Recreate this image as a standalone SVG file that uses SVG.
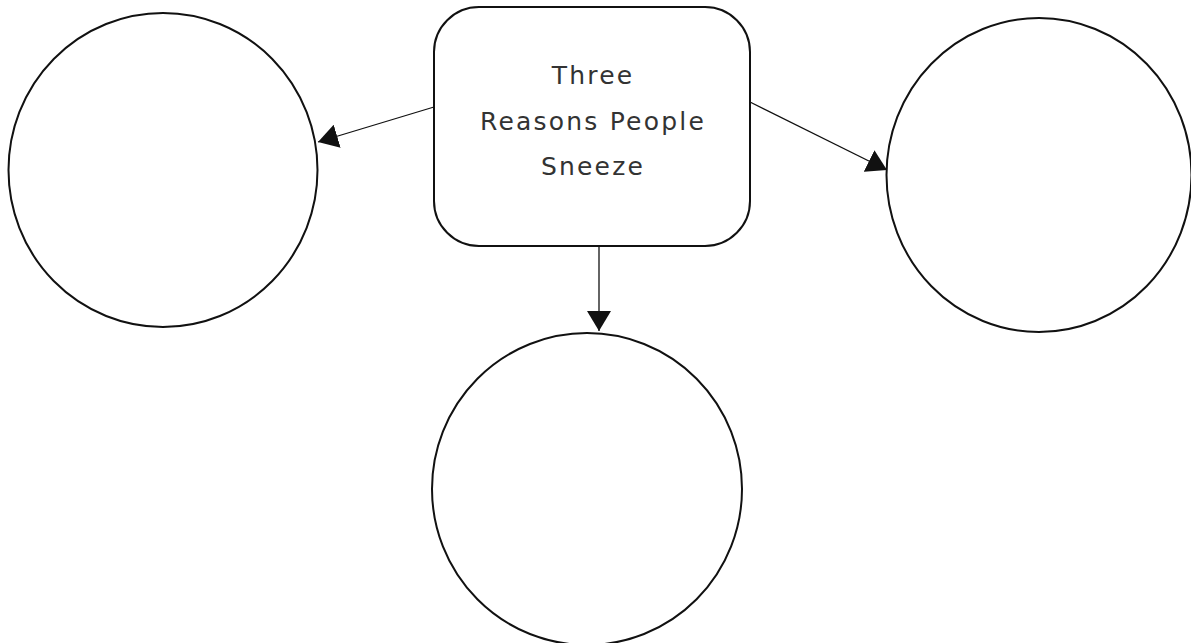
<svg xmlns="http://www.w3.org/2000/svg" width="1191" height="643" viewBox="0 0 1191 643">
<style>
.shape{fill:#fff;stroke:#111;stroke-width:2}
.conn{stroke:#111;stroke-width:1.3;fill:none}
.lbl{font-family:"DejaVu Sans","Liberation Sans",sans-serif;font-size:25px;fill:#333;text-anchor:middle;letter-spacing:2.2px}
</style>
<defs>
<marker id="arr" viewBox="0 0 20 24" refX="20" refY="12" markerWidth="20" markerHeight="24" markerUnits="userSpaceOnUse" orient="auto">
<path d="M0,0 L20,12 L0,24 z" fill="#111"/>
</marker>
</defs>
<rect width="1191" height="643" fill="#fff"/>
<g id="connectors">
<line class="conn" x1="434" y1="107" x2="318" y2="142" marker-end="url(#arr)"/>
<line class="conn" x1="750" y1="102" x2="887" y2="170" marker-end="url(#arr)"/>
<line class="conn" x1="599" y1="246" x2="599" y2="331" marker-end="url(#arr)"/>
</g>
<g id="center">
<rect class="shape" x="434" y="7" width="316" height="239" rx="45" ry="45"/>
<text class="lbl" x="593" y="84">Three</text>
<text class="lbl" x="593" y="130">Reasons People</text>
<text class="lbl" x="593" y="175">Sneeze</text>
</g>
<g id="left">
<ellipse class="shape" cx="163" cy="170" rx="154.5" ry="157"/>
</g>
<g id="right">
<ellipse class="shape" cx="1039" cy="175" rx="152.5" ry="157"/>
</g>
<g id="bottom">
<ellipse class="shape" cx="587" cy="489" rx="155" ry="156"/>
</g>
</svg>
